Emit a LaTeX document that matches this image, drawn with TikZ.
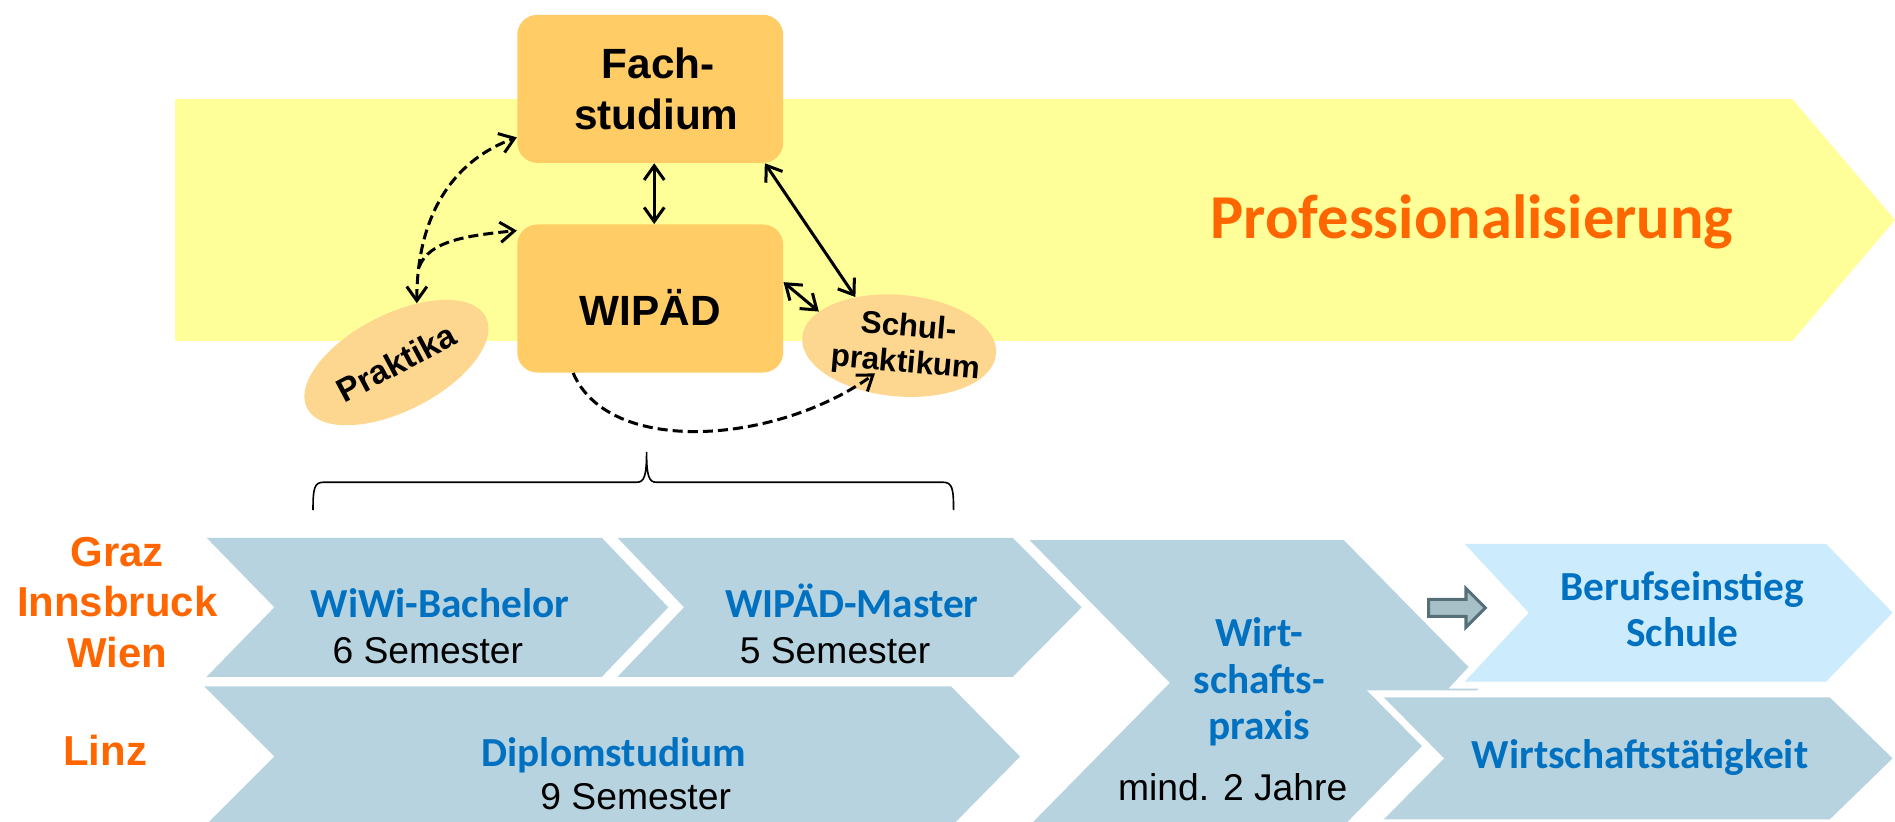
\documentclass[tikz,border=0pt]{standalone}
\usepackage{fontspec}
\setmainfont{Liberation Sans}
\newfontfamily\calfont{Carlito}
\usetikzlibrary{arrows.meta,shapes.geometric,calc}
\definecolor{band}{HTML}{FFFF99}
\definecolor{boxor}{HTML}{FFCC66}
\definecolor{ellor}{HTML}{FDD78F}
\definecolor{chev}{HTML}{B7D3DF}
\definecolor{beruf}{HTML}{CCEBFD}
\definecolor{orng}{HTML}{FF6600}
\definecolor{blu}{HTML}{0070C0}
\definecolor{arrfill}{HTML}{A7C0C7}
\definecolor{arrline}{HTML}{56707A}
\tikzset{
 >={Straight Barb[length=7pt,width=10pt]},
 conn/.style={line width=1.5pt},
 dconn/.style={line width=1.5pt, dash pattern=on 5pt off 2.5pt},
 box/.style={fill=boxor, rounded corners=10pt, minimum width=132pt, minimum height=73.5pt, inner sep=0pt, font=\bfseries\fontsize{21}{25}\selectfont, align=center},
 ell/.style={ellipse, fill=ellor, inner sep=0pt},
 halo/.style={preaction={draw=white, line width=7pt, line join=miter}},
 bluetxt/.style={text=blu, font=\calfont\bfseries\fontsize{20.5}{23}\selectfont, anchor=base, inner sep=0pt},
 semtxt/.style={font=\fontsize{18.5}{22}\selectfont, anchor=base, inner sep=0pt},
 citytxt/.style={text=orng, font=\bfseries\fontsize{20.8}{25}\selectfont, anchor=base, inner sep=0pt},
}
\begin{document}
\begin{tikzpicture}[x=0.6pt,y=-0.6pt]
\useasboundingbox (0,0) rectangle (1568,680);
% band
\fill[band] (145,82) -- (1483,82) -- (1568,182) -- (1483,282) -- (145,282) -- cycle;
\node[text=orng, font=\calfont\bfseries\fontsize{31}{36}\selectfont, anchor=base, inner sep=0pt] (prof) at (1218,197) {Professionalisierung};
% boxes
\node[box] (fach) at (538,73.5) {\hspace*{8pt}Fach-\\\hspace*{6pt}studium};
\node[box, text height=27pt, text depth=0pt] (wipad) at (538,247) {WIPÄD};
\node[ell, rotate=27, minimum width=99.6pt, minimum height=48pt,
  label={[rotate=28, font=\bfseries\fontsize{16.5}{19}\selectfont]center:Praktika}] (prak) at (328,300) {};
\node[ell, rotate=-5, minimum width=96.6pt, minimum height=50.4pt,
  label={[rotate=-5, xshift=4pt, align=center, font=\bfseries\fontsize{15.6}{18}\selectfont]center:{Schul-\\praktikum}}] (schul) at (744,286) {};
% connectors
\draw[conn,<->] ([xshift=2pt]fach.south) -- ([xshift=2pt]wipad.north);
\draw[conn,<->] (fach.-33) -- (schul.137);
\draw[conn,<->] (wipad.7) -- (schul.162);
\draw[dconn,<->] (prak.44) .. controls +(0,-70) and +(-55,20) .. coordinate[pos=0.15] (br) (fach.200);
\draw[dconn,->] (br) .. controls +(8,-22) and +(-40,4) .. (wipad.153);
\draw[dconn,->] (wipad.224) .. controls +(30,70) and +(-80,58) .. ($(schul.center)+(-20,23)$);
% brace
\draw[line width=0.8pt] (259,422) .. controls (259,404) and (260,399) .. (268,399) -- (527,399) .. controls (533,399) and (535,394) .. (535,374) .. controls (535,394) and (537,399) .. (543,399) -- (780,399) .. controls (788,399) and (789,404) .. (789,422);
% chevrons
\fill[chev] (171,445) -- (498,445) -- (553,502.5) -- (498,560) -- (171,560) -- (227,502.5) -- cycle;
\fill[chev,halo] (511,445) -- (838,445) -- (895,502.5) -- (838,560) -- (511,560) -- (566,502.5) -- cycle;
\fill[chev,halo] (169,568) -- (787,568) -- (844,626) -- (787,684) -- (169,684) -- (227,626) -- cycle;
\fill[chev,halo] (852,447) -- (1112,447) -- (1228,565) -- (1112,683) -- (852,683) -- (968,565) -- cycle;
\fill[beruf,halo] (1212,450) -- (1511,450) -- (1566,507) -- (1511,564) -- (1212,564) -- (1265,507) -- cycle;
\fill[chev,halo] (1145,577) -- (1514,577) -- (1566,627.5) -- (1514,678) -- (1145,678) -- (1195,627.5) -- cycle;
% block arrow
\filldraw[fill=arrfill, draw=arrline, line width=1.5pt, line join=miter] (1182,496) -- (1213,496) -- (1213,487) -- (1229,503) -- (1213,519) -- (1213,510) -- (1182,510) -- cycle;
% texts
\node[bluetxt] (wiwi) at (364,511) {WiWi-Bachelor};
\node[semtxt] (sem6) at (354,549) {6 Semester};
\node[bluetxt] (wpm) at (705,511) {WIPÄD-Master};
\node[semtxt] (sem5) at (691,549) {5 Semester};
\node[bluetxt] (dipl) at (508,634) {Diplomstudium};
\node[semtxt] (sem9) at (526,670) {9 Semester};
\node[bluetxt] (wirt1) at (1042,535) {Wirt-};
\node[bluetxt] (wirt2) at (1042,574) {schafts-};
\node[bluetxt] (wirt3) at (1042,612) {praxis};
\node[semtxt] (mind) at (1020,662) {mind. 2 Jahre};
\node[bluetxt] (ber1) at (1392,497) {Berufseinstieg};
\node[bluetxt] (ber2) at (1392,535) {Schule};
\node[bluetxt] (wt) at (1357,636) {Wirtschaftstätigkeit};
\node[citytxt] (graz) at (97,469) {Graz};
\node[citytxt] (ibk) at (97,510) {Innsbruck};
\node[citytxt] (wien) at (97,552) {Wien};
\node[citytxt] (linz) at (87,633) {Linz};
\end{tikzpicture}
\end{document}
